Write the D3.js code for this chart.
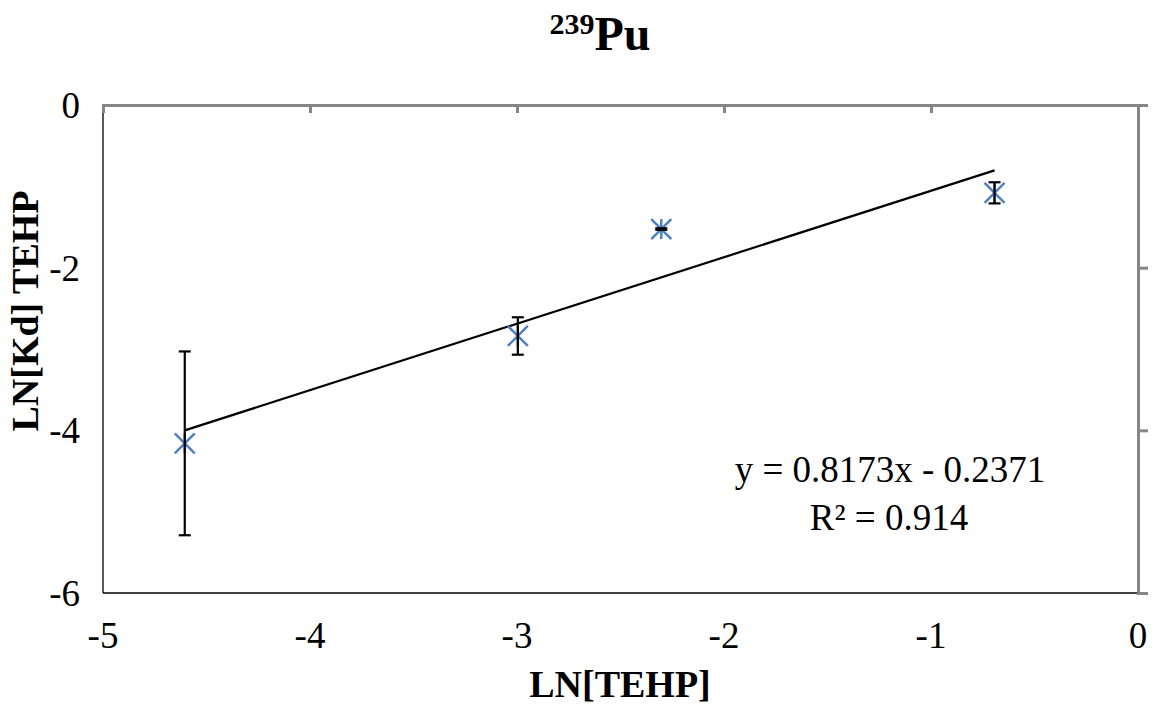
<!DOCTYPE html>
<html>
<head>
<meta charset="utf-8">
<script src="https://cdn.jsdelivr.net/npm/d3@7"></script>
<style>
  body { margin: 0; background: #fff; }
  text { font-family: "Liberation Serif", "Times New Roman", serif; fill: #000; }
</style>
</head>
<body>
<div id="chart"></div>
<script>
// Data
const lnTehp = [-4.605, -2.996, -2.303, -0.693]
const lnKd = [-4.16, -2.84, -1.525, -1.08]
const errKd = [1.13, 0.23, 0.01, 0.13]
const xTicks = [-5, -4, -3, -2, -1, 0]
const yTicks = [0, -2, -4, -6]
const slope = 0.8173, intercept = -0.2371

let width = 1156, height = 706
let margin = { top: 105, right: 18, bottom: 113, left: 103 }

let svg = d3.select('#chart').append('svg')
  .attr('width', width)
  .attr('height', height)

let xScale = d3.scaleLinear().domain([-5, 0]).range([margin.left, width - margin.right])
let yScale = d3.scaleLinear().domain([-6, 0]).range([height - margin.bottom, margin.top])

// Plot area border (left / bottom)
svg.append('line')
  .attr('x1', xScale(-5)).attr('y1', yScale(0))
  .attr('x2', xScale(-5)).attr('y2', yScale(-6))
  .attr('stroke', '#222').attr('stroke-width', 1.5)
svg.append('line')
  .attr('x1', xScale(-5)).attr('y1', yScale(-6))
  .attr('x2', xScale(0)).attr('y2', yScale(-6))
  .attr('stroke', '#000').attr('stroke-width', 1.5)

// Horizontal axis crosses at y = 0, vertical at x = 0
let xAxis = d3.axisBottom(xScale).tickValues(xTicks).tickSize(8).tickFormat('')
let gx = svg.append('g').attr('transform', 'translate(0,' + yScale(0) + ')').call(xAxis)
let yAxis = d3.axisRight(yScale).tickValues(yTicks).tickSize(10).tickFormat('')
let gy = svg.append('g').attr('transform', 'translate(' + xScale(0) + ',0)').call(yAxis)
;[gx, gy].forEach(g => {
  g.select('.domain').attr('stroke', '#868686').attr('stroke-width', 3)
  g.selectAll('.tick line').attr('stroke', '#868686').attr('stroke-width', 3)
})

// Tick labels at low position
svg.selectAll('.xlab').data(xTicks).enter().append('text')
  .attr('x', d => xScale(d))
  .attr('y', 648)
  .attr('text-anchor', 'middle')
  .style('font-size', '37px')
  .text(d => d)
svg.selectAll('.ylab').data(yTicks).enter().append('text')
  .attr('x', 80)
  .attr('y', d => yScale(d) + 13)
  .attr('text-anchor', 'end')
  .style('font-size', '37px')
  .text(d => d)

// Trend line
let xr = d3.extent(lnTehp)
svg.append('line')
  .attr('x1', xScale(xr[0])).attr('y1', yScale(slope * xr[0] + intercept))
  .attr('x2', xScale(xr[1])).attr('y2', yScale(slope * xr[1] + intercept))
  .attr('stroke', '#000').attr('stroke-width', 2.2)

let pts = lnTehp.map((x, i) => ({ x: x, y: lnKd[i], e: errKd[i] }))

// Star markers
let s = 10
let mk = svg.selectAll('.mk').data(pts).enter().append('g')
  .attr('transform', d => 'translate(' + xScale(d.x) + ',' + yScale(d.y) + ')')
  .attr('stroke', '#4F81BD').attr('stroke-width', 2.5)
mk.append('line').attr('x1', -s).attr('y1', -s).attr('x2', s).attr('y2', s)
mk.append('line').attr('x1', -s).attr('y1', s).attr('x2', s).attr('y2', -s)
mk.append('line').attr('x1', 0).attr('y1', -s).attr('x2', 0).attr('y2', s)

// Error bars
let eb = svg.selectAll('.eb').data(pts).enter().append('g')
  .attr('stroke', '#000').attr('stroke-width', 2.2)
eb.append('line')
  .attr('x1', d => xScale(d.x)).attr('x2', d => xScale(d.x))
  .attr('y1', d => yScale(d.y + d.e)).attr('y2', d => yScale(d.y - d.e))
eb.append('line')
  .attr('x1', d => xScale(d.x) - 6).attr('x2', d => xScale(d.x) + 6)
  .attr('y1', d => yScale(d.y + d.e)).attr('y2', d => yScale(d.y + d.e))
eb.append('line')
  .attr('x1', d => xScale(d.x) - 6).attr('x2', d => xScale(d.x) + 6)
  .attr('y1', d => yScale(d.y - d.e)).attr('y2', d => yScale(d.y - d.e))

// Trendline equation
svg.append('text')
  .attr('x', 890).attr('y', 482)
  .attr('text-anchor', 'middle')
  .style('font-size', '37px')
  .text('y = ' + slope + 'x - ' + Math.abs(intercept))
svg.append('text')
  .attr('x', 889).attr('y', 530)
  .attr('text-anchor', 'middle')
  .style('font-size', '37px')
  .text('R² = 0.914')

// Title
let title = svg.append('text')
  .attr('x', 600).attr('y', 50)
  .attr('text-anchor', 'middle')
  .style('font-weight', 'bold')
title.append('tspan').attr('dy', -16).style('font-size', '30px').text('239')
title.append('tspan').attr('dy', 16).style('font-size', '48px').text('Pu')

// Axis titles
svg.append('text')
  .attr('x', 620).attr('y', 697)
  .attr('text-anchor', 'middle')
  .style('font-size', '38px').style('font-weight', 'bold')
  .text('LN[TEHP]')
svg.append('text')
  .attr('transform', 'translate(38,311) rotate(-90)')
  .attr('text-anchor', 'middle')
  .style('font-size', '38px').style('font-weight', 'bold')
  .text('LN[Kd] TEHP')
</script>
</body>
</html>
